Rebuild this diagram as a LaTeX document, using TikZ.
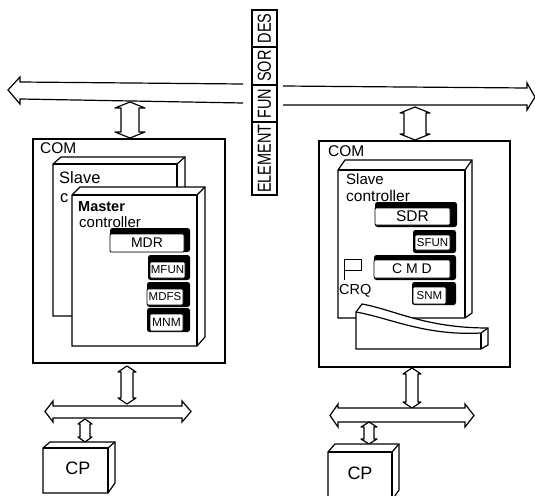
\documentclass[tikz,border=0pt]{standalone}
\usepackage{fontspec}
\setmainfont{Liberation Sans}
\newcommand{\vdbl}[6]{% cx, ytop, ybot, half shaft, half head, depth
  \draw[ln,fill=white,line join=round] (#1,#2) -- (#1+#5,#2+#6) -- (#1+#4,#2+#6) -- (#1+#4,#3-#6) -- (#1+#5,#3-#6) -- (#1,#3) -- (#1-#5,#3-#6) -- (#1-#4,#3-#6) -- (#1-#4,#2+#6) -- (#1-#5,#2+#6) -- cycle;}
\newcommand{\hbus}[8]{% xl tip, xl head, xr head, xr tip, ytop head, yt shaft, yb shaft, yb head
  \draw[ln,fill=white] (#1,{(#5+#8)/2}) -- (#2,#5) -- (#2,#6) -- (#3,#6) -- (#3,#5) -- (#4,{(#5+#8)/2}) -- (#3,#8) -- (#3,#7) -- (#2,#7) -- (#2,#8) -- cycle;}
\newcommand{\threeD}[7]{% x1 x2 ytop ybot dx dy ybackbot
  \draw[ln,fill=white] (#1,#3) -- (#1+#5,#3-#6) -- (#2+#5,#3-#6) -- (#2+#5,#7) -- (#2,#4) -- (#1,#4) -- cycle;
  \draw[ln] (#1,#3) -- (#2,#3) -- (#2,#4);
  \draw[ln] (#2,#3) -- (#2+#5,#3-#6);}
\newcommand{\regbox}[9]{% name, outer x1 y1 x2 y2, inner x1 y1 x2 y2
  \fill[black,rounded corners=2.5] (#2,#3) rectangle (#4,#5);
  \regboxB{#1}{#6}{#7}{#8}{#9}}
\newcommand{\regboxB}[5]{\node[regbody,minimum width={(#4-#2)*1pt},minimum height={(#5-#3)*1pt}] (#1) at ({(#2+#4)/2},{(#3+#5)/2}) {};}
\begin{document}
\begin{tikzpicture}[x=1pt,y=-1pt,
  ln/.style={line width=1.2pt,black},
  reglbl/.style={inner sep=0pt,font=\fontsize{#1}{12}\selectfont},
  lbl/.style={inner sep=0pt,anchor=west,font=\fontsize{#1}{13}\selectfont},
  fld/.style={draw=black,line width=1.1pt,minimum width=25pt,inner sep=0pt},
  fldtxt/.style={rotate=90,yscale=1.3,inner sep=0pt,font=\fontsize{14.5}{15}\selectfont},
  regbody/.style={draw=black,line width=0.8pt,fill=white,inner sep=0pt,rounded corners=1}]
\useasboundingbox (0,0) rectangle (535,495);
% main bus
\draw[ln,fill=white] (243,84) -- (20,82) -- (20,77) -- (8,90) -- (20,104) -- (20,99) -- (243,103);
\draw[ln,fill=white] (283,86) -- (527,88) -- (527,83) -- (535,97) -- (527,110) -- (527,105) -- (283,105);
% message format
\node[fld,minimum height=73pt] (el) at (264.5,158.5) {};
\node[fld,minimum height=37pt] (fu) at (264.5,103.5) {};
\node[fld,minimum height=38pt] (so) at (264.5,66) {};
\node[fld,minimum height=37pt] (de) at (264.5,28.5) {};
\node[fldtxt] at (el) {ELEMENT};
\node[fldtxt] at (fu) {FUN};
\node[fldtxt] at (so) {SOR};
\node[fldtxt] at (de) {DES};
% left station
\vdbl{130}{102}{138}{9}{15}{6}
\node[draw=black,line width=1.2pt,minimum width=192pt,minimum height=224pt,inner sep=0pt] (comL) at (129,251) {};
\node[lbl=15.5] at (40,148) {COM};
\threeD{53}{177}{164}{316}{8}{7}{186}
\node[lbl=16.5] at (59,178) {Slave};
\node[lbl=16.5] at (60,198) {c};
\threeD{72}{197}{195}{346}{8}{8}{337}
\node[lbl=15,font=\bfseries\fontsize{14.5}{13}\selectfont] at (78,207) {Master};
\node[lbl=15] at (79,222) {controller};
\regbox{mdr}{110}{228}{190}{252}{110}{234}{184}{252}
\node[reglbl=14] at (mdr) {MDR};
\regbox{mfun}{148}{255}{190}{280}{150}{262}{185}{278}
\node[reglbl=11.5] at (mfun) {MFUN};
\regbox{mdfs}{147}{282}{190}{307}{147}{289}{183}{305}
\node[reglbl=11.5] at (mdfs) {MDFS};
\regbox{mnm}{147}{308}{190}{332}{150}{314}{183}{331}
\node[reglbl=12] at (mnm) {MNM};
\vdbl{127}{366}{404}{6}{9}{6}
\hbus{45}{53}{182}{191}{401}{406}{418}{422}
\vdbl{85}{419}{442}{5}{7}{5}
\threeD{43}{108}{448}{493}{7}{6}{483}
\node[reglbl=18] (cpL) at (78,468) {CP};
% right station
\vdbl{415}{107}{140}{11}{15}{6}
\node[draw=black,line width=1.2pt,minimum width=191pt,minimum height=226pt,inner sep=0pt] (comR) at (414.5,254) {};
\node[lbl=15.5] at (328,151) {COM};
\threeD{338}{465}{170}{318}{7}{10}{313}
\node[lbl=15] at (346,179) {Slave};
\node[lbl=15.5] at (346,195.5) {controller};
\regbox{sdr}{375}{202}{457}{227}{375}{208}{450}{225}
\node[reglbl=15.5] at (sdr) {SDR};
\regbox{sfun}{413}{230}{456}{253}{415}{235}{450}{250}
\node[reglbl=11.5] at (sfun) {SFUN};
\regbox{cmd}{374}{255}{456}{280}{374}{260}{450}{278}
\node[reglbl=14] at (cmd) {C M D};
\regbox{snm}{412}{282}{456}{305}{413}{287}{446}{304}
\node[reglbl=11.5] at (snm) {SNM};
\draw[line width=0.8pt] (344,280) -- (344,259) -- (361,259) -- (361,270) -- (344,270);
\node[lbl=14.5] at (339,291) {CRQ};
% card edge wedge
\draw[ln,fill=white] (356,349) -- (356,312) -- (362,304) .. controls (395,310) and (425,328) .. (488,328) -- (488,345) -- (481,349) -- cycle;
\draw[ln] (356,312) .. controls (390,318) and (425,336) .. (481,333) -- (488,328);
\draw[ln] (481,333) -- (481,349);
\vdbl{412}{368}{408}{6}{9}{6}
\hbus{330}{338}{465}{474}{404}{408}{422}{427}
\vdbl{369}{422}{444}{5}{8}{5}
\threeD{328}{392}{452}{500}{7}{8}{490}
\node[reglbl=18] (cpR) at (360,473) {CP};
\end{tikzpicture}
\end{document}
